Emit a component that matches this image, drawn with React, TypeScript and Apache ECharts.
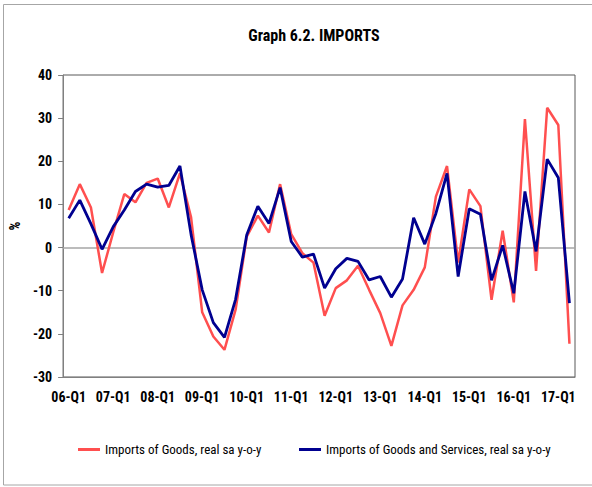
import React, { useEffect, useRef } from "react";
import * as echarts from "echarts";

const years = ["06", "07", "08", "09", "10", "11", "12", "13", "14", "15", "16", "17"];
const quarters: string[] = [];
years.forEach((y) => ["Q1", "Q2", "Q3", "Q4"].forEach((q) => quarters.push(`${y}-${q}`)));
const categories = quarters.slice(0, 46);

const importsGoods = [
  8.7, 14.7, 9.3, -5.9, 3.5, 12.4, 10.5, 15.0, 16.0, 9.3, 17.2, 7.0,
  -15.0, -20.6, -23.7, -14.4, 2.5, 7.4, 3.5, 14.7, 3.1, -1.3, -3.5, -15.8,
  -9.4, -7.6, -4.2, -9.8, -15.2, -22.8, -13.4, -9.8, -4.6, 11.8, 18.9, -3.5,
  13.5, 9.6, -12.1, 3.9, -12.7, 29.8, -5.4, 32.4, 28.4, -22.3,
];

const importsGoodsServices = [
  6.8, 11.0, 5.5, -0.4, 4.8, 8.7, 13.0, 14.7, 14.0, 14.4, 18.9, 3.0,
  -9.8, -17.4, -20.8, -12.0, 2.9, 9.6, 5.6, 13.9, 1.4, -2.2, -1.5, -9.4,
  -4.9, -2.5, -3.2, -7.5, -6.7, -11.5, -7.3, 6.9, 0.8, 7.9, 17.2, -6.7,
  9.0, 7.7, -7.6, 0.5, -10.6, 13.0, -0.9, 20.5, 16.2, -12.9,
];

const seriesNames = [
  "Imports of Goods, real sa y-o-y",
  "Imports of Goods and Services, real sa y-o-y",
];

const FONT = "'Liberation Sans Narrow', 'Roboto Condensed', 'Arial Narrow', Roboto, sans-serif";

export default function App() {
  const ref = useRef<HTMLDivElement>(null);
  useEffect(() => {
    if (!ref.current) return;
    const chart = echarts.init(ref.current, undefined, { renderer: "svg" });
    const legendCommon = {
      top: 438,
      itemWidth: 22,
      itemHeight: 3,
      icon: "rect",
      textStyle: { fontFamily: FONT, fontSize: 13, color: "#000" },
    };
    chart.setOption({
      animation: false,
      backgroundColor: "#ffffff",
      textStyle: { fontFamily: FONT },
      title: {
        text: "Graph 6.2. IMPORTS",
        left: 309,
        top: 22,
        textAlign: "center",
        textStyle: { fontFamily: FONT, fontWeight: "bold", fontSize: 16, color: "#000" },
      },
      graphic: [
        {
          type: "rect",
          shape: { x: 3.5, y: 4.5, width: 600, height: 480.5 },
          style: { fill: "none", stroke: "#a6a6a6", lineWidth: 1 },
          silent: true,
          z: -1,
        },
      ],
      legend: [
        { ...legendCommon, left: 73, data: [seriesNames[0]] },
        { ...legendCommon, left: 294, data: [seriesNames[1]] },
      ],
      grid: {
        left: 48,
        top: 75,
        right: 17,
        bottom: 110,
        show: true,
        borderColor: "#595959",
        borderWidth: 1,
        backgroundColor: "transparent",
      },
      xAxis: {
        type: "category",
        data: categories,
        boundaryGap: true,
        axisLine: { onZero: false, lineStyle: { color: "#808080" } },
        axisTick: { show: false },
        axisLabel: {
          interval: 3,
          margin: 13,
          fontFamily: FONT,
          fontWeight: "bold",
          fontSize: 14,
          color: "#000",
        },
        splitLine: { show: false },
      },
      yAxis: {
        type: "value",
        min: -30,
        max: 40,
        interval: 10,
        name: "%",
        nameLocation: "middle",
        nameGap: 34,
        nameRotate: 90,
        nameTextStyle: { fontFamily: FONT, fontWeight: "bold", fontSize: 14, color: "#000" },
        axisLine: { show: true, lineStyle: { color: "#808080" } },
        axisTick: { show: true, length: 5, lineStyle: { color: "#808080" } },
        axisLabel: {
          margin: 11,
          fontFamily: FONT,
          fontWeight: "bold",
          fontSize: 14,
          color: "#000",
        },
        splitLine: { show: false },
      },
      series: [
        {
          name: seriesNames[0],
          type: "line",
          data: importsGoods,
          symbol: "none",
          lineStyle: { color: "#ff4f4f", width: 2.5 },
          itemStyle: { color: "#ff4f4f" },
          z: 2,
          markLine: {
            silent: true,
            symbol: "none",
            label: { show: false },
            lineStyle: { color: "#a6a6a6", type: "solid", width: 1.5 },
            data: [{ yAxis: 0 }],
            z: 1,
          },
        },
        {
          name: seriesNames[1],
          type: "line",
          data: importsGoodsServices,
          symbol: "none",
          lineStyle: { color: "#000090", width: 2.8 },
          itemStyle: { color: "#000090" },
          z: 3,
        },
      ],
    });
    return () => chart.dispose();
  }, []);
  return (
    <div
      ref={ref}
      style={{ position: "fixed", left: 0, top: 0, width: 592, height: 487 }}
    />
  );
}
